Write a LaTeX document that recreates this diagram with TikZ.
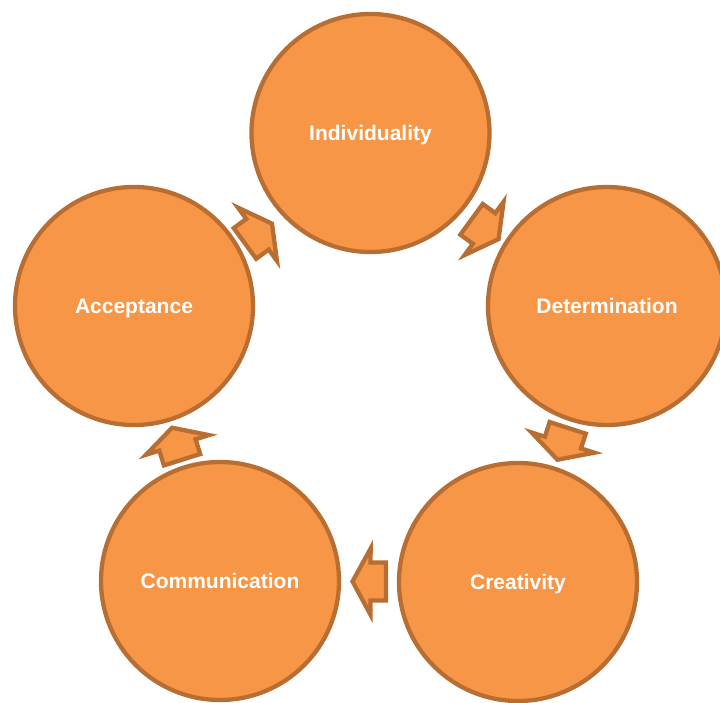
\documentclass[tikz,border=0pt]{standalone}
\usepackage{fontspec}
\setmainfont{Liberation Sans}
\definecolor{ringfill}{RGB}{247,150,70}
\definecolor{ringline}{RGB}{184,110,50}
\tikzset{
  stage/.style={circle,draw=ringline,fill=ringfill,line width=4.3pt,minimum size=238pt,inner sep=0pt,
    text=white,font=\bfseries\fontsize{21}{25}\selectfont,text height=15pt,text depth=0pt},
  cycline/.style={draw=ringline,fill=ringfill,line width=4.3pt,miter limit=10},
  cycarrow/.pic={
    \path[cycline] (-17,-19) -- (-1.5,-19) -- (-1.5,-33) -- (16.5,0) -- (-1.5,33) -- (-1.5,19) -- (-17,19) -- cycle;
  }
}
\begin{document}
\begin{tikzpicture}[x=1pt,y=-1pt]
\useasboundingbox (0,0) rectangle (720,702);
\node[stage] (I) at (370.5,133) {Individuality};
\node[stage] (D) at (607,306) {Determination};
\node[stage] (Cr) at (518,582) {Creativity};
\node[stage] (Co) at (220,581) {Communication};
\node[stage] (A) at (134,306) {Acceptance};
\path
  (I) -- pic[sloped,allow upside down,xshift=3pt,yshift=-10pt] {cycarrow} (D)
  (D) -- pic[sloped,allow upside down] {cycarrow} (Cr)
  (Cr) -- pic[sloped,allow upside down] {cycarrow} (Co)
  (Co) -- pic[sloped,allow upside down] {cycarrow} (A)
  (A) -- pic[sloped,allow upside down,xshift=-3pt,yshift=-15pt] {cycarrow} (I)
;
\end{tikzpicture}
\end{document}
